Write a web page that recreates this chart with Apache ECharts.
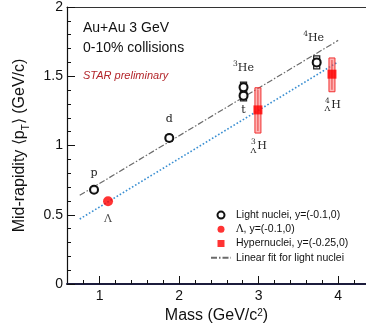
<!DOCTYPE html>
<html><head><meta charset="utf-8">
<script src="https://cdn.jsdelivr.net/npm/echarts@6/dist/echarts.min.js"></script>
<style>html,body{margin:0;padding:0;background:#fff}#c{width:366px;height:336px}</style>
</head><body><div id="c"></div>
<script>
// ---- data ----
const lightNames = ['p', 'd', 't', '3He', '4He'];
const lightMass = [0.93, 1.876, 2.81, 2.81, 3.73];
const lightPt = [0.681, 1.054, 1.36, 1.42, 1.60];
const lightSys = [0.01, 0.015, 0.03, 0.03, 0.04];

const lambdaMass = [1.106];
const lambdaPt = [0.598];

const hyperA = ['3', '4'];
const hyperMass = [2.991, 3.922];
const hyperPt = [1.257, 1.515];
const hyperLo = [1.09, 1.388];
const hyperHi = [1.417, 1.632];

const fitX = [0.75, 4.0];
const fitLight = [0.64, 1.759];
const fitHyper = [0.469, 1.604];

const xMajorTicks = [1, 2, 3, 4];
const xMinorTicks = [0.8, 1.2, 1.4, 1.6, 1.8, 2.2, 2.4, 2.6, 2.8, 3.2, 3.4, 3.6, 3.8, 4.2];

const legendLight = 'Light nuclei, y=(-0.1,0)';
const legendLambda = 'Λ, y=(-0.1,0)';
const legendHyper = 'Hypernuclei, y=(-0.25,0)';
const legendFit = 'Linear fit for light nuclei';

// ---- styles ----
const SANS = 'Liberation Sans';
const SERIF = 'DejaVu Serif';
const labelOffsets = { 'p': [0, -17], 'd': [0, -19], 't': [0, 15], '3He': [0, -19], '4He': [-3, -24] };
const supRich = {
  sup: { fontSize: 7.5, fontFamily: SERIF, color: '#222', verticalAlign: 'top', lineHeight: 8 },
  b: { fontSize: 11, fontFamily: SERIF, color: '#222', lineHeight: 16 }
};
function richName(n) {
  const m = /^(\d+)(.*)$/.exec(n);
  return m ? '{sup|' + m[1] + '}{b|' + m[2] + '}' : '{b|' + n + '}';
}

const chart = echarts.init(document.getElementById('c'), null, { renderer: 'canvas' });

const option = {
  animation: false,
  backgroundColor: '#fff',
  grid: { left: 67, right: 0, top: 5, bottom: 52, containLabel: false },
  xAxis: [
    {
      type: 'value', min: 0.59, max: 4.35, position: 'bottom',
      name: 'Mass (GeV/c{sup|2})', nameLocation: 'middle', nameGap: 22,
      nameTextStyle: { fontFamily: SANS, fontSize: 16, color: '#111',
        rich: { sup: { fontSize: 10, verticalAlign: 'top', lineHeight: 12, fontFamily: SANS, color: '#111' } } },
      axisLine: { show: true, lineStyle: { color: '#1c1c3c', width: 2 } },
      axisTick: { show: true, inside: true, length: 8, customValues: xMajorTicks, lineStyle: { color: '#111', width: 1 } },
      axisLabel: { customValues: xMajorTicks, fontFamily: SANS, fontSize: 14, color: '#111', margin: 5 },
      splitLine: { show: false }
    },
    {
      type: 'value', min: 0.59, max: 4.35, position: 'bottom',
      axisLine: { show: false },
      axisTick: { show: true, inside: true, length: 4, customValues: xMinorTicks, lineStyle: { color: '#111', width: 1 } },
      axisLabel: { show: false },
      splitLine: { show: false }
    },
    {
      type: 'value', min: 0.59, max: 4.35, position: 'top',
      axisLine: { show: true, lineStyle: { color: '#333', width: 1.2 } },
      axisTick: { show: false }, axisLabel: { show: false }, splitLine: { show: false }
    }
  ],
  yAxis: {
    type: 'value', min: 0, max: 2, interval: 0.5,
    name: 'Mid-rapidity ⟨p{sub|T}⟩ (GeV/c)', nameLocation: 'middle', nameGap: 36,
    nameTextStyle: { fontFamily: SANS, fontSize: 16, color: '#111',
      rich: { sub: { fontSize: 10, verticalAlign: 'bottom', lineHeight: 22, fontFamily: SANS, color: '#111' } } },
    axisLine: { show: true, lineStyle: { color: '#111', width: 1.2 } },
    axisTick: { show: true, inside: true, length: 8, lineStyle: { color: '#111', width: 1 } },
    minorTick: { show: true, splitNumber: 5, length: 4, lineStyle: { color: '#111', width: 1 } },
    axisLabel: { fontFamily: SANS, fontSize: 14, color: '#111', margin: 4 },
    splitLine: { show: false }
  },
  legend: {
    orient: 'vertical', left: 210, top: 208, padding: 0, itemWidth: 20, itemHeight: 7, itemGap: 0,
    selectedMode: false, symbolKeepAspect: true,
    textStyle: { fontFamily: SANS, fontSize: 10.5, color: '#111', lineHeight: 14.2,
      rich: { s: { fontFamily: SERIF, fontSize: 10.5, color: '#111', lineHeight: 14.2 } } },
    formatter: function (n) { return n.replace('Λ', '{s|Λ}'); },
    data: [
      { name: legendLight, icon: 'circle' },
      { name: legendLambda, icon: 'circle' },
      { name: legendHyper, icon: 'path://M0,0L10,0L10,10L0,10Z' },
      { name: legendFit, itemStyle: { opacity: 0 } }
    ]
  },
  graphic: [
    { type: 'text', left: 83, top: 21, style: { text: 'Au+Au 3 GeV', fontFamily: SANS, fontSize: 14, fill: '#111' } },
    { type: 'text', left: 83, top: 41, style: { text: '0-10% collisions', fontFamily: SANS, fontSize: 14, fill: '#111' } },
    { type: 'text', left: 83, top: 70, style: { text: 'STAR preliminary', fontFamily: SANS, fontSize: 11, fontStyle: 'italic', fill: '#b3262b' } }
  ],
  series: [
    {
      name: legendFit, type: 'line', symbol: 'none', z: 1,
      data: fitX.map((x, i) => [x, fitLight[i]]),
      lineStyle: { color: '#6b6b6b', width: 1.2, type: [6, 2, 1.5, 2] },
      itemStyle: { color: '#6b6b6b' }
    },
    {
      name: 'hyperfit', type: 'line', symbol: 'none', z: 1,
      data: fitX.map((x, i) => [x, fitHyper[i]]),
      lineStyle: { color: '#3a8fd2', width: 1.6, type: [1.6, 2] }
    },
    {
      name: 'lightsys', type: 'custom', z: 3,
      data: lightMass.map((m, i) => [m, lightPt[i] - lightSys[i], lightPt[i] + lightSys[i]]),
      renderItem: function (params, api) {
        const lo = api.coord([api.value(0), api.value(1)]);
        const hi = api.coord([api.value(0), api.value(2)]);
        return {
          type: 'rect',
          shape: { x: lo[0] - 3, y: hi[1] - 1, width: 6, height: lo[1] - hi[1] + 2 },
          style: { fill: 'none', stroke: '#222', lineWidth: 1.3 }
        };
      }
    },
    {
      name: 'hypersys', type: 'custom', z: 3,
      data: hyperMass.map((m, i) => [m, hyperPt[i], hyperLo[i], hyperHi[i], i]),
      renderItem: function (params, api) {
        const i = api.value(4);
        const lo = api.coord([api.value(0), api.value(2)]);
        const hi = api.coord([api.value(0), api.value(3)]);
        const cx = lo[0];
        const hy = lo[1] + 13;
        return {
          type: 'group',
          children: [
            { type: 'rect', shape: { x: cx - 3, y: hi[1], width: 6, height: lo[1] - hi[1] },
              style: { fill: 'rgba(255,110,110,0.5)', stroke: '#f03030', lineWidth: 1 } },
            { type: 'line', shape: { x1: cx, y1: hi[1] + 2, x2: cx, y2: lo[1] - 2 },
              style: { stroke: '#e02020', lineWidth: 0.8 } },
            { type: 'text', x: cx + 4, y: hy, style: { text: 'H', fontFamily: SERIF, fontSize: 11, fill: '#222', align: 'center', verticalAlign: 'middle' } },
            { type: 'text', x: cx - 4.5, y: hy - 4, style: { text: hyperA[i], fontFamily: SERIF, fontSize: 7.5, fill: '#222', align: 'center', verticalAlign: 'middle' } },
            { type: 'text', x: cx - 4.5, y: hy + 4.5, style: { text: 'Λ', fontFamily: SERIF, fontSize: 8, fill: '#222', align: 'center', verticalAlign: 'middle' } }
          ]
        };
      }
    },
    {
      name: legendLight, type: 'scatter', symbol: 'circle', symbolSize: 8, z: 5,
      itemStyle: { color: 'rgba(255,255,255,0.85)', borderColor: '#111', borderWidth: 2, opacity: 1 },
      data: lightMass.map((m, i) => ({
        value: [m, lightPt[i]], name: lightNames[i],
        label: { show: true, position: 'inside', offset: labelOffsets[lightNames[i]],
          formatter: richName(lightNames[i]), rich: supRich }
      }))
    },
    {
      name: legendLambda, type: 'scatter', symbol: 'circle', symbolSize: 10, z: 5,
      itemStyle: { color: '#ff0000' },
      data: lambdaMass.map((m, i) => ({
        value: [m, lambdaPt[i]],
        label: { show: true, position: 'inside', offset: [0, 18], formatter: '{b|Λ}', rich: supRich }
      }))
    },
    {
      name: legendHyper, type: 'scatter', symbol: 'rect', symbolSize: 9, z: 5,
      itemStyle: { color: '#ff0000' },
      data: hyperMass.map((m, i) => [m, hyperPt[i]])
    }
  ]
};
chart.setOption(option);
</script></body></html>
